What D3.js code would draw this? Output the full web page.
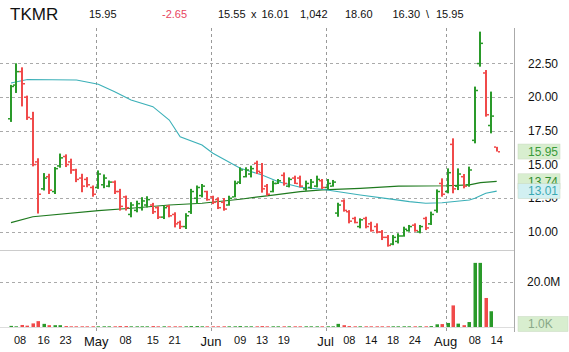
<!DOCTYPE html>
<html><head><meta charset="utf-8">
<script src="https://cdn.jsdelivr.net/npm/d3@7/dist/d3.min.js"></script>
<style>
html,body{margin:0;padding:0;background:#fff;}
svg{display:block;font-family:"Liberation Sans",Arial,sans-serif;}
</style></head>
<body>
<svg id="chart" width="569" height="352"></svg>
<script>
// ---- data ----
const dates = [
"2014-04-08","2014-04-09","2014-04-10","2014-04-11","2014-04-14","2014-04-15","2014-04-16","2014-04-17","2014-04-21","2014-04-22","2014-04-23","2014-04-24","2014-04-25","2014-04-28","2014-04-29","2014-04-30",
"2014-05-01","2014-05-02","2014-05-05","2014-05-06","2014-05-07","2014-05-08","2014-05-09","2014-05-12","2014-05-13","2014-05-14","2014-05-15","2014-05-16","2014-05-19","2014-05-20","2014-05-21","2014-05-22","2014-05-23","2014-05-27","2014-05-28","2014-05-29","2014-05-30",
"2014-06-02","2014-06-03","2014-06-04","2014-06-05","2014-06-06","2014-06-09","2014-06-10","2014-06-11","2014-06-12","2014-06-13","2014-06-16","2014-06-17","2014-06-18","2014-06-19","2014-06-20","2014-06-23","2014-06-24","2014-06-25","2014-06-26","2014-06-27","2014-06-30",
"2014-07-01","2014-07-02","2014-07-03","2014-07-07","2014-07-08","2014-07-09","2014-07-10","2014-07-11","2014-07-14","2014-07-15","2014-07-16","2014-07-17","2014-07-18","2014-07-21","2014-07-22","2014-07-23","2014-07-24","2014-07-25","2014-07-28","2014-07-29","2014-07-30","2014-07-31",
"2014-08-01","2014-08-04","2014-08-05","2014-08-06","2014-08-07","2014-08-08","2014-08-11","2014-08-12","2014-08-13","2014-08-14"];
const open = [18.4,20.9,21.9,20.0,18.4,15.2,13.2,14.1,13.0,14.9,15.6,15.2,14.6,14.0,13.9,13.3,
13.3,13.5,13.4,13.7,13.0,12.6,11.3,11.6,11.8,12.0,12.0,11.8,11.1,11.9,11.3,10.7,10.4,11.5,12.5,12.7,13.0,
12.6,12.4,12.2,12.0,12.6,13.7,14.1,14.3,15.1,14.4,13.4,13.0,13.6,14.2,13.4,14.0,14.0,13.2,13.3,13.4,13.8,
13.3,13.4,11.4,12.3,11.5,11.0,10.4,11.0,10.6,10.4,10.0,9.6,9.1,9.3,9.7,10.1,10.5,10.0,11.0,10.6,11.6,13.6,
13.0,16.5,13.4,14.1,13.5,16.8,22.5,21.8,17.9,16.30];
const high = [20.9,22.5,22.2,20.1,18.9,15.45,14.35,14.3,14.8,15.8,15.74,15.42,14.67,14.3,14.05,13.43,
14.55,14.25,13.8,13.8,13.18,12.68,12.19,12.3,12.56,12.63,12.14,11.89,11.94,11.99,11.44,10.82,11.37,13.18,13.43,13.54,13.04,
12.67,12.55,12.5,12.67,13.79,14.78,14.78,14.9,15.27,15.1,13.54,13.79,13.91,14.4,14.03,14.16,14.16,13.79,13.91,14.16,13.91,
13.91,13.84,12.15,12.4,11.6,11.11,10.99,11.11,10.74,10.62,10.12,9.75,9.75,9.88,10.37,10.5,10.62,10.5,11.11,11.49,13.14,13.96,
14.7,16.93,14.7,14.28,14.83,20.77,24.85,22.0,20.4,16.30];
const low = [18.15,20.3,19.3,18.3,14.85,11.35,13.06,12.8,12.8,14.75,14.8,14.3,13.68,12.93,13.3,12.6,
13.18,13.23,13.3,12.8,11.57,11.57,11.07,11.44,11.57,11.8,11.32,10.94,10.94,11.07,10.32,10.2,10.2,11.32,12.06,12.55,12.3,
12.05,11.68,11.56,11.93,12.55,13.54,14.03,14.03,14.28,12.9,12.67,12.92,13.54,13.42,13.29,13.54,13.29,13.04,13.17,13.29,13.17,
13.17,13.34,11.11,11.49,10.62,10.62,10.25,10.25,10.0,9.88,9.38,8.89,9.0,9.13,9.63,10.0,10.0,9.88,10.12,10.5,11.41,12.6,
12.85,12.85,13.09,13.22,13.34,16.56,22.25,18.54,17.3,15.95];
const close = [20.8,21.9,21.0,18.5,15.0,12.8,14.0,13.1,14.7,15.5,15.0,14.6,13.9,13.4,13.5,12.8,
14.3,14.0,13.7,13.0,11.9,11.8,12.0,12.1,12.3,12.4,11.5,11.1,11.8,11.2,10.6,10.4,11.2,13.0,13.3,13.4,12.4,
12.2,11.8,11.7,12.5,13.6,14.6,14.6,14.7,14.5,13.2,12.8,13.6,13.8,13.6,13.9,13.6,13.4,13.6,13.7,13.9,13.3,
13.6,13.7,12.0,11.6,10.8,10.7,10.9,10.4,10.1,10.0,9.6,9.0,9.6,9.7,10.2,10.4,10.1,10.4,10.3,11.3,13.0,12.8,
14.4,13.2,14.3,13.4,14.6,20.5,24.0,18.7,18.6,15.95];
// volume in millions
const volume = [0.5,0.3,0.9,0.6,1.6,2.6,1.4,0.8,0.8,0.8,0.4,0.3,0.3,0.3,0.3,0.3,
0.3,0.3,0.3,0.3,0.4,0.4,0.3,0.3,0.3,0.3,0.4,0.3,0.3,0.3,0.3,0.3,0.3,0.4,0.4,0.3,0.3,
0.3,0.3,0.3,0.3,0.3,0.4,0.3,0.3,0.3,0.4,0.3,0.3,0.3,0.3,0.3,0.3,0.3,0.3,0.3,0.3,0.3,
0.3,0.3,1.4,0.8,0.4,0.3,0.3,0.3,0.3,0.3,0.3,0.3,0.3,0.3,0.3,0.3,0.3,0.3,0.3,0.4,1.2,1.3,
1.8,9.6,1.5,0.8,2.2,28.5,28.5,12.9,7.0,0.001042];
// moving averages at sample bars
const maFastIdx = [0,3,12,16,19,22,26,29,31,35,37,42,46,49,53,57,64,70,73,76,79,84,85,87,89];
const maFast    = [21.04,21.3,21.26,20.94,20.39,19.77,19.28,18.29,17.05,16.44,15.82,14.71,14.21,13.71,13.3,13.15,12.72,12.4,12.23,12.11,12.15,12.35,12.48,12.85,13.01];
const maSlowIdx = [0,4,16,22,29,35,42,48,53,57,64,71,80,84,86,89];
const maSlow    = [10.67,11.11,11.56,11.74,11.98,12.11,12.41,12.72,12.97,13.1,13.22,13.39,13.41,13.47,13.64,13.74];
const priceTicks = [10,12.5,15,17.5,20,22.5];
const volTicks = [20];
const xTickDates = ["2014-04-08","2014-04-16","2014-04-23","2014-05-01","2014-05-08","2014-05-15","2014-05-21","2014-06-02","2014-06-09","2014-06-13","2014-06-19","2014-07-01","2014-07-08","2014-07-14","2014-07-18","2014-07-24","2014-08-01","2014-08-08","2014-08-14"];
const xTickLabels = ["08","16","23","May","08","15","21","Jun","09","13","19","Jul","08","14","18","24","Aug","08","14"];
const header = {symbol:"TKMR", last:"15.95", change:"-2.65", bid:"15.55", ask:"16.01", size:"1,042", prev:"18.60", hi:"16.30", lo:"15.95"};
const badges = {last:"15.95", slow:"13.74", fast:"13.01", vol:"1.0K"};

// ---- drawing ----
const svg = d3.select("#chart");
const W = 569, axisX = 514;
const x = d3.scaleLinear().domain([0, dates.length-1]).range([11, 496.7]);
const xd = d => x(dates.indexOf(d));
const y = d3.scaleLinear().domain([10, 22.5]).range([231.7, 63.3]);
const yv = d3.scaleLinear().domain([0, 20]).range([327, 282]);
const GREEN = "#2a9a2a", RED = "#f04a4a";
const upColor = i => close[i] >= open[i] ? GREEN : RED;

// grid
const grid = svg.append("g");
grid.selectAll("line.hp").data(priceTicks).join("line")
  .attr("x1",0).attr("x2",axisX).attr("y1",d=>Math.round(y(d))+0.5).attr("y2",d=>Math.round(y(d))+0.5)
  .attr("stroke","#aaa").attr("stroke-dasharray","3,3");
grid.selectAll("line.hv").data(volTicks).join("line")
  .attr("x1",0).attr("x2",axisX).attr("y1",d=>Math.round(yv(d))+0.5).attr("y2",d=>Math.round(yv(d))+0.5)
  .attr("stroke","#aaa").attr("stroke-dasharray","3,3");
const monthIdx = xTickLabels.map((l,i)=>l.length===3?i:-1).filter(i=>i>=0);
grid.selectAll("line.vv").data(monthIdx).join("line")
  .attr("x1",i=>Math.round(xd(xTickDates[i])-2)+0.5).attr("x2",i=>Math.round(xd(xTickDates[i])-2)+0.5)
  .attr("y1",28).attr("y2",332).attr("stroke","#999").attr("stroke-dasharray","3,3");

// panel frame
svg.append("line").attr("x1",0).attr("x2",axisX).attr("y1",250.5).attr("y2",250.5).attr("stroke","#ccc");
svg.append("line").attr("x1",0).attr("x2",axisX).attr("y1",327.5).attr("y2",327.5).attr("stroke","#ddd");
svg.append("line").attr("x1",axisX+0.5).attr("x2",axisX+0.5).attr("y1",28).attr("y2",332).attr("stroke","#aaa");

// moving averages
const lineGen = d3.line().x(d=>x(d[0])).y(d=>y(d[1]));
svg.append("path").datum(maSlowIdx.map((k,i)=>[k,maSlow[i]])).attr("d",lineGen)
  .attr("fill","none").attr("stroke","#1f7a1f").attr("stroke-width",1.2);
svg.append("path").datum(maFastIdx.map((k,i)=>[k,maFast[i]])).attr("d",lineGen)
  .attr("fill","none").attr("stroke","#3bb0b8").attr("stroke-width",1.1);

// OHLC bars
const bars = svg.append("g").selectAll("g").data(d3.range(dates.length)).join("g");
bars.append("rect").attr("x",i=>Math.round(x(i))-1).attr("width",2)
  .attr("y",i=>y(high[i])).attr("height",i=>Math.max(1,y(low[i])-y(high[i])))
  .attr("fill",upColor);
bars.append("rect").attr("x",i=>Math.round(x(i))-3).attr("width",2)
  .attr("y",i=>y(open[i])-0.5).attr("height",1.5).attr("fill",upColor);
bars.append("rect").attr("x",i=>Math.round(x(i))+1).attr("width",2)
  .attr("y",i=>y(close[i])-0.5).attr("height",1.5).attr("fill",upColor);

// volume bars
svg.append("g").selectAll("rect").data(d3.range(dates.length)).join("rect")
  .attr("x",i=>Math.round(x(i))-1.5).attr("width",3.5)
  .attr("y",i=>yv(volume[i])).attr("height",i=>yv(0)-yv(volume[i]))
  .attr("fill",upColor);

// right axis labels
svg.append("g").selectAll("text").data(priceTicks).join("text")
  .attr("x",528).attr("y",d=>y(d)).attr("dy","0.36em")
  .attr("font-size",12).attr("fill","#111").text(d=>d.toFixed(2));
svg.append("g").selectAll("text").data(volTicks).join("text")
  .attr("x",527).attr("y",d=>yv(d)).attr("dy","0.36em")
  .attr("font-size",12).attr("fill","#111").text(d=>d.toFixed(1)+"M");

// badges
function badge(yc, txt, bg, fg, w){
  svg.append("rect").attr("x",518).attr("y",yc-7.5).attr("width",w).attr("height",15).attr("fill",bg).attr("stroke","#c8d8c0").attr("stroke-width",0.5);
  svg.append("text").attr("x",528).attr("y",yc).attr("dy","0.36em").attr("font-size",12).attr("fill",fg).text(txt);
}
badge(y(maSlow[maSlow.length-1]), badges.slow, "#d8eecf", "#2e8b2e", 42);
badge(y(maFast[maFast.length-1]), badges.fast, "#d2f0f2", "#3aa8b2", 42);
badge(y(close[close.length-1]), badges.last, "#d8eecf", "#3a9a3a", 42);
badge(yv(0)-3, badges.vol, "#d8eecf", "#88a888", 50);

// x labels
svg.append("g").selectAll("text").data(xTickDates).join("text")
  .attr("x",(d,i)=> xTickLabels[i].length===3 ? xd(d)-2 : Math.max(20,xd(d)))
  .attr("y",(d,i)=> xTickLabels[i].length===3 ? 346 : 344)
  .attr("text-anchor","middle")
  .attr("font-size",(d,i)=> xTickLabels[i].length===3 ? 13 : 11)
  .attr("fill","#111").text((d,i)=>xTickLabels[i]);

// header
const h = svg.append("g");
h.append("text").attr("x",10).attr("y",20).attr("font-size",17).attr("fill","#111").text(header.symbol);
const hs = [[89,header.last,"#111"],[162,header.change,"#e8455f"],[218,header.bid,"#111"],[251,"x","#111"],[261.5,header.ask,"#111"],
  [300,header.size,"#111"],[345,header.prev,"#111"],[392.5,header.hi,"#111"],[426,"\\","#111"],[436,header.lo,"#111"]];
h.selectAll("text.s").data(hs).join("text").attr("x",d=>d[0]).attr("y",18).attr("font-size",11).attr("fill",d=>d[2]).text(d=>d[1]);
</script>
</body></html>
